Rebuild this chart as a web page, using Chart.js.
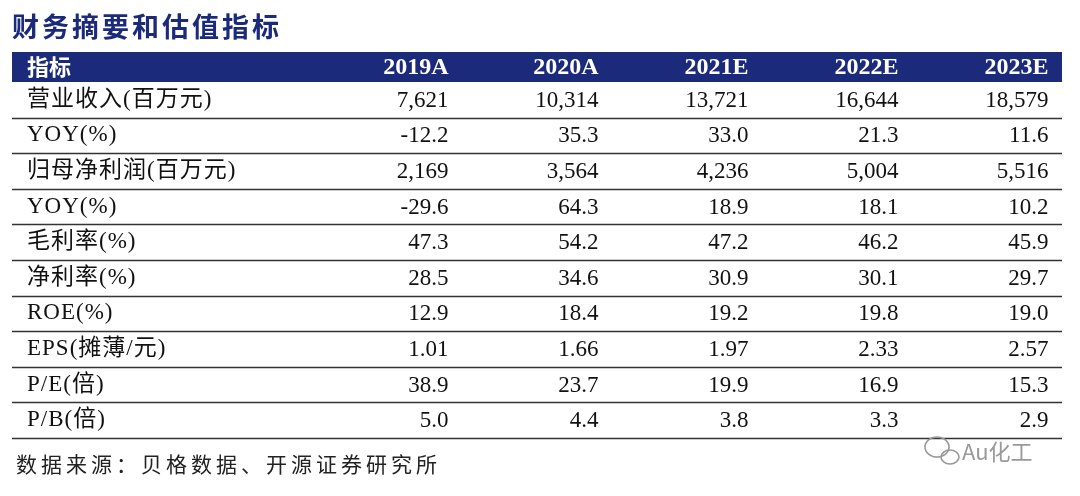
<!DOCTYPE html>
<html><head><meta charset="utf-8">
<script src="https://cdn.jsdelivr.net/npm/chart.js@4"></script>
<style>html,body{margin:0;padding:0;background:#fff}#c{display:block}</style>
</head><body>
<div style="width:1080px;height:496px"><canvas id="c"></canvas></div>
<script>
const title = '财务摘要和估值指标';
const source = '数据来源：贝格数据、开源证券研究所';
const headerLabel = '指标';
const years = ['2019A','2020A','2021E','2022E','2023E'];
const rowLabels = ['营业收入(百万元)','YOY(%)','归母净利润(百万元)','YOY(%)','毛利率(%)','净利率(%)','ROE(%)','EPS(摊薄/元)','P/E(倍)','P/B(倍)'];
const col2019A = ['7,621','-12.2','2,169','-29.6','47.3','28.5','12.9','1.01','38.9','5.0'];
const col2020A = ['10,314','35.3','3,564','64.3','54.2','34.6','18.4','1.66','23.7','4.4'];
const col2021E = ['13,721','33.0','4,236','18.9','47.2','30.9','19.2','1.97','19.9','3.8'];
const col2022E = ['16,644','21.3','5,004','18.1','46.2','30.1','19.8','2.33','16.9','3.3'];
const col2023E = ['18,579','11.6','5,516','10.2','45.9','29.7','19.0','2.57','15.3','2.9'];
const cols = [col2019A,col2020A,col2021E,col2022E,col2023E];
const NAVY = '#1b2a7a';
const SERIF = '"Liberation Serif","Times New Roman",serif';
const CJK = '"Noto Sans CJK SC",sans-serif';

const tablePlugin = {
  id:'table',
  afterDraw(chart){
    const ctx = chart.ctx, x = chart.scales.x, y = chart.scales.y, a = chart.chartArea;
    ctx.save();
    ctx.fillStyle = NAVY; ctx.font = 'bold 27px '+CJK; ctx.textBaseline='middle'; ctx.textAlign='left';
    ctx.letterSpacing = '3px';
    ctx.fillText(title, a.left, 27);
    ctx.letterSpacing = '0px';
    const hTop = y.getPixelForValue(y.min), hBot = y.getPixelForValue(0);
    ctx.fillStyle = NAVY; ctx.fillRect(a.left, hTop, a.right-a.left, hBot-hTop);
    const hMid = (hTop+hBot)/2;
    ctx.fillStyle = '#fff'; ctx.font = 'bold 22px '+CJK; ctx.textAlign='left';
    ctx.fillText(headerLabel, x.getPixelForValue(0.1), hMid);
    ctx.font = 'bold 24px '+SERIF; ctx.textAlign='right';
    years.forEach((yr,i)=>ctx.fillText(yr, x.getPixelForValue(i+3-0.09), hMid+1));
    rowLabels.forEach((lab,r)=>{
      const mid = y.getPixelForValue(r+0.5);
      ctx.fillStyle='#111'; ctx.textAlign='left';
      ctx.font = '23px '+SERIF+','+CJK;
      ctx.letterSpacing = '1px';
      ctx.fillText(lab, x.getPixelForValue(0.1), mid);
      ctx.letterSpacing = '0px';
      ctx.textAlign='right'; ctx.font='23px '+SERIF;
      cols.forEach((c,i)=>ctx.fillText(c[r], x.getPixelForValue(i+3-0.09), mid+1));
      const ly = Math.round(y.getPixelForValue(r+1))+0.5;
      ctx.strokeStyle='#333'; ctx.lineWidth=1.3;
      ctx.beginPath(); ctx.moveTo(a.left, ly); ctx.lineTo(a.right, ly); ctx.stroke();
    });
    ctx.fillStyle='#222'; ctx.textAlign='left'; ctx.font='21px '+CJK;
    ctx.letterSpacing = '4px';
    ctx.fillText(source, a.left+4, 464);
    ctx.letterSpacing = '0px';
    ctx.fillStyle='#999'; ctx.font='22px '+CJK;
    ctx.fillText('Au化工', 962, 452);
    ctx.strokeStyle='#999'; ctx.lineWidth=1.6;
    ctx.beginPath(); ctx.ellipse(937,447,12,10,0,0,Math.PI*2); ctx.stroke();
    ctx.beginPath(); ctx.ellipse(950,457,9,7,0,0,Math.PI*2); ctx.stroke();
    ctx.restore();
  }
};

new Chart(document.getElementById('c'),{
  type:'scatter',
  data:{datasets:[{data:rowLabels.map((l,r)=>({x:0.5,y:r+0.5})),pointRadius:0}]},
  options:{
    responsive:true, maintainAspectRatio:false, animation:false,
    layout:{padding:{left:12,right:18,top:52,bottom:58}},
    plugins:{legend:{display:false},tooltip:{enabled:false}},
    scales:{
      x:{type:'linear',min:0,max:7,display:false},
      y:{type:'linear',min:-30/35.6,max:10,reverse:true,display:false}
    }
  },
  plugins:[tablePlugin]
});
</script>
</body></html>
